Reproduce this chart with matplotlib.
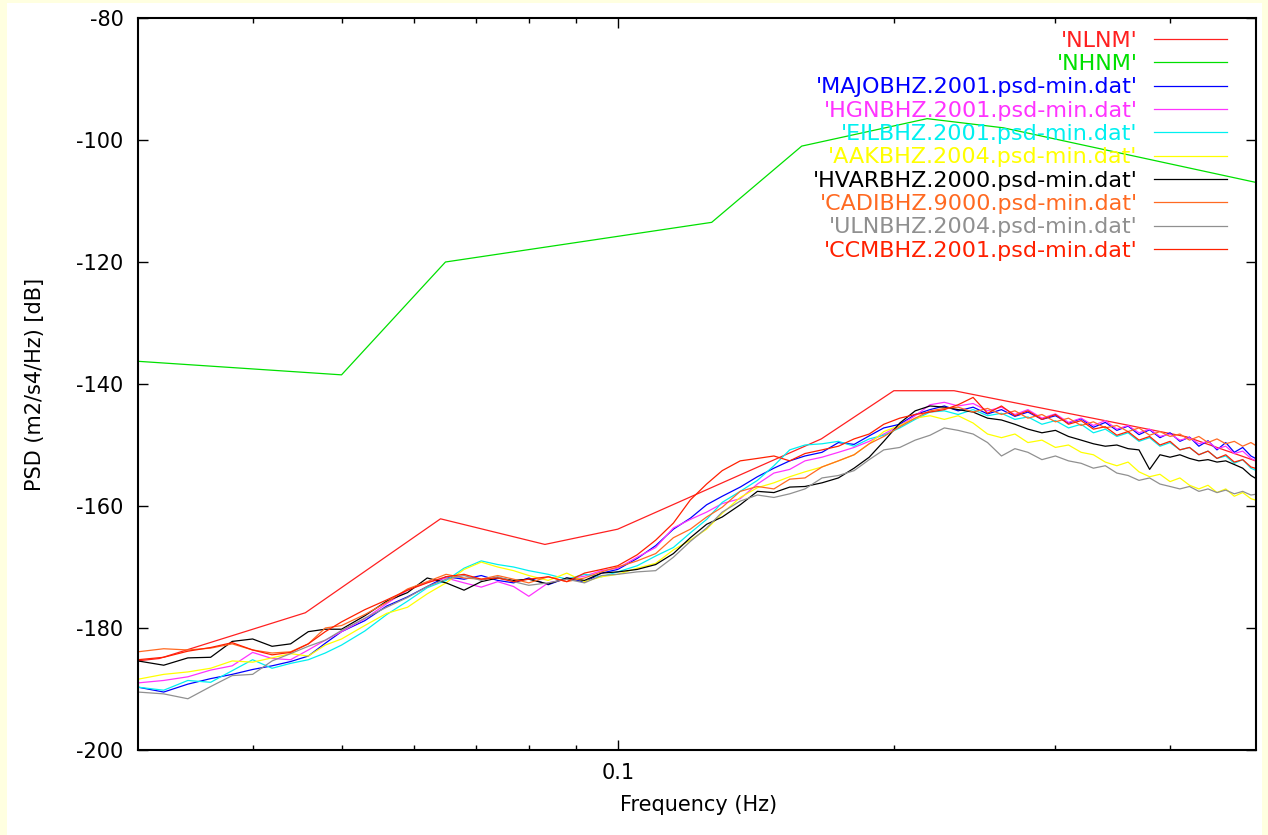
import matplotlib
matplotlib.use("Agg")
import matplotlib.pyplot as plt
from matplotlib.patches import Rectangle
from matplotlib.ticker import FixedLocator, NullFormatter, FixedFormatter

plt.rcParams['font.family'] = ['DejaVu Sans']
plt.rcParams['axes.unicode_minus'] = False

# ---------------- data ----------------
nlnm_freq = [0.02222, 0.03165, 0.04566, 0.0641, 0.0833, 0.1, 0.1667, 0.2, 0.2326, 0.4167, 0.5]
nlnm_db = [-187.5, -185.0, -177.5, -162.1, -166.3, -163.8, -149.0, -141.1, -141.1, -148.65, -152.8]

nhnm_freq = [0.00282, 0.05, 0.0649, 0.1266, 0.1587, 0.2174, 0.2632, 1.25]
nhnm_db = [-126.0, -138.5, -120.0, -113.5, -101.0, -96.5, -98.0, -120.0]

freq = [0.030, 0.032, 0.034, 0.036, 0.038, 0.040, 0.042, 0.044, 0.046, 0.048,
        0.050, 0.053, 0.056, 0.059, 0.062, 0.065, 0.068, 0.071, 0.074, 0.077,
        0.080, 0.084, 0.088, 0.092, 0.096, 0.100, 0.105, 0.110, 0.115, 0.120,
        0.125, 0.130, 0.136, 0.142, 0.148, 0.154, 0.160, 0.167, 0.174, 0.181,
        0.188, 0.195, 0.203, 0.211, 0.219, 0.227, 0.235, 0.244, 0.253, 0.262,
        0.271, 0.280, 0.290, 0.300, 0.310, 0.320, 0.330, 0.340, 0.350, 0.360,
        0.370, 0.380, 0.390, 0.400, 0.410, 0.420, 0.430, 0.440, 0.450, 0.460,
        0.470, 0.480, 0.490, 0.500]

majo = [-189.7, -190.5, -189.2, -188.3, -187.6, -186.8, -186.2, -185.5, -184.6, -182.5,
        -180.6, -178.8, -176.4, -174.9, -173.2, -171.6, -172.0, -171.4, -172.2, -172.6,
        -171.8, -172.9, -171.8, -172.5, -171.0, -170.4, -168.6, -166.5, -163.8, -162.0,
        -159.8, -158.4, -156.9, -155.2, -153.8, -152.6, -151.8, -151.2, -149.6, -149.9,
        -148.5, -147.2, -146.6, -145.0, -144.2, -143.6, -144.4, -143.8, -144.9, -144.2,
        -145.3, -144.6, -145.8, -145.2, -146.4, -145.7, -147.1, -146.3, -147.6, -146.9,
        -148.3, -147.5, -148.8, -148.0, -149.4, -148.7, -150.2, -149.3, -150.8, -149.6,
        -151.2, -150.4, -151.8, -152.5]

hgn = [-189.0, -188.6, -188.0, -186.9, -186.2, -184.0, -185.0, -185.2, -183.6, -182.0,
       -180.6, -178.5, -176.0, -173.8, -172.5, -171.8, -172.6, -173.3, -172.4, -173.2,
       -174.8, -172.6, -172.0, -171.5, -170.6, -170.2, -168.4, -166.8, -163.6, -162.2,
       -161.0, -159.6, -158.8, -156.4, -154.6, -154.0, -152.6, -152.0, -151.2, -150.4,
       -149.4, -148.2, -146.8, -145.2, -143.4, -143.0, -143.6, -143.2, -144.4, -143.8,
       -145.0, -144.2, -145.6, -144.9, -146.3, -145.6, -146.8, -146.0, -147.4, -146.8,
       -148.0, -147.4, -148.6, -148.2, -149.2, -148.8, -149.8, -149.4, -150.6, -150.2,
       -151.4, -151.0, -152.2, -152.8]

eil = [-189.7, -190.2, -188.6, -188.9, -187.0, -185.2, -186.6, -185.8, -185.2, -184.1,
       -182.8, -180.5, -177.8, -175.6, -173.4, -172.2, -170.2, -169.0, -169.6, -170.0,
       -170.6, -171.2, -172.0, -171.2, -171.6, -170.8, -169.8, -168.2, -166.8, -164.4,
       -162.2, -159.4, -157.6, -155.8, -153.4, -150.8, -150.0, -149.8, -149.4, -150.2,
       -149.0, -148.4, -147.2, -145.8, -144.6, -144.4, -145.0, -144.2, -145.2, -144.8,
       -145.8, -145.4, -146.6, -146.0, -147.2, -146.6, -148.0, -147.4, -148.6, -148.0,
       -149.4, -148.8, -150.2, -149.6, -150.8, -150.4, -151.6, -151.0, -152.2, -151.8,
       -153.0, -152.4, -153.8, -154.4]

aak = [-188.4, -187.6, -187.2, -186.6, -185.4, -185.6, -184.9, -184.2, -184.6, -182.8,
       -181.8, -179.6, -177.6, -176.6, -174.4, -172.6, -170.4, -169.2, -170.0, -170.6,
       -171.4, -172.2, -171.0, -172.4, -171.6, -171.2, -170.2, -169.4, -167.2, -165.6,
       -163.8, -161.2, -158.6, -157.0, -156.2, -155.2, -154.4, -153.6, -152.6, -151.6,
       -149.8, -147.8, -146.8, -145.6, -145.2, -145.8, -145.2, -146.4, -148.2, -148.8,
       -148.2, -149.6, -149.2, -150.4, -150.0, -151.2, -151.6, -152.8, -153.4, -152.8,
       -154.4, -155.2, -154.8, -156.0, -155.4, -156.6, -157.2, -156.6, -157.8, -157.2,
       -158.4, -157.8, -158.8, -159.2]

hvar = [-185.4, -186.1, -184.9, -184.8, -182.2, -181.8, -183.0, -182.6, -180.6, -180.2,
        -180.2, -178.0, -175.6, -174.2, -171.8, -172.6, -173.8, -172.4, -171.8, -172.2,
        -172.0, -172.8, -171.8, -172.2, -171.0, -170.8, -170.4, -169.6, -167.8, -165.2,
        -163.0, -161.8, -159.8, -157.6, -157.8, -156.9, -156.8, -156.2, -155.4, -153.8,
        -152.0, -149.4, -146.4, -144.4, -143.6, -143.8, -144.2, -144.6, -145.6, -145.9,
        -146.6, -147.4, -148.0, -147.6, -148.6, -149.2, -149.8, -150.2, -150.0, -150.6,
        -150.8, -154.0, -151.6, -152.0, -151.6, -152.2, -152.6, -152.4, -152.8, -152.6,
        -153.2, -153.8, -155.0, -155.8]

cadi = [-183.9, -183.4, -183.6, -183.3, -182.6, -183.6, -184.1, -183.9, -182.6, -180.0,
        -179.6, -177.8, -175.8, -173.6, -172.4, -171.2, -171.8, -172.0, -171.4, -172.0,
        -172.6, -171.6, -172.4, -171.8, -170.8, -170.0, -169.0, -167.8, -165.2, -163.8,
        -161.8, -160.2, -157.6, -156.8, -157.2, -155.6, -155.4, -153.6, -152.6, -151.6,
        -149.8, -148.6, -147.0, -145.6, -144.4, -144.0, -143.8, -144.6, -144.0, -145.0,
        -144.4, -145.6, -145.0, -146.2, -145.6, -146.8, -146.2, -147.2, -146.8, -147.8,
        -147.2, -148.4, -147.8, -148.6, -148.2, -149.2, -148.6, -149.6, -149.0, -149.8,
        -149.4, -150.2, -149.6, -150.4]

uln = [-190.5, -190.8, -191.6, -189.6, -187.8, -187.6, -185.4, -184.2, -183.0, -182.0,
       -180.4, -178.4, -176.6, -175.0, -173.2, -172.0, -171.4, -172.2, -171.6, -172.4,
       -173.0, -172.6, -172.0, -172.6, -171.4, -171.2, -170.8, -170.6, -168.4, -165.8,
       -163.6, -161.0, -159.2, -158.2, -158.6, -158.0, -157.2, -155.4, -155.0, -154.2,
       -152.4, -150.8, -150.4, -149.2, -148.4, -147.2, -147.6, -148.2, -149.6, -151.8,
       -150.6, -151.2, -152.4, -151.8, -152.6, -153.0, -153.8, -153.4, -154.6, -155.0,
       -155.8, -155.4, -156.4, -156.8, -157.2, -156.8, -157.6, -157.2, -157.8, -157.4,
       -158.0, -157.6, -158.2, -158.0]

ccm = [-185.2, -184.8, -183.8, -183.2, -182.4, -183.6, -184.4, -184.0, -182.6, -180.6,
       -179.0, -177.0, -175.4, -173.8, -172.6, -171.6, -171.2, -172.0, -171.8, -172.4,
       -172.0, -171.6, -172.4, -171.0, -170.4, -169.8, -168.0, -165.6, -162.8, -159.0,
       -156.4, -154.2, -152.6, -152.2, -151.8, -152.6, -151.4, -150.8, -150.2, -149.0,
       -148.2, -146.6, -145.6, -145.0, -144.6, -144.2, -143.4, -142.2, -144.8, -143.6,
       -145.2, -144.4, -145.8, -145.0, -146.6, -146.0, -147.4, -147.0, -148.4, -147.8,
       -149.2, -148.6, -150.0, -149.4, -150.8, -150.4, -151.6, -151.0, -152.2, -151.6,
       -152.8, -152.4, -153.6, -154.0]

stations = [
    ("'MAJOBHZ.2001.psd-min.dat'", majo, "#0000ff"),
    ("'HGNBHZ.2001.psd-min.dat'", hgn, "#ff33ff"),
    ("'EILBHZ.2001.psd-min.dat'", eil, "#00f0f0"),
    ("'AAKBHZ.2004.psd-min.dat'", aak, "#ffff00"),
    ("'HVARBHZ.2000.psd-min.dat'", hvar, "#000000"),
    ("'CADIBHZ.9000.psd-min.dat'", cadi, "#ff6a22"),
    ("'ULNBHZ.2004.psd-min.dat'", uln, "#909090"),
    ("'CCMBHZ.2001.psd-min.dat'", ccm, "#ff2000"),
]

yticks = [-200, -180, -160, -140, -120, -100, -80]
xminor = [0.04, 0.05, 0.06, 0.07, 0.08, 0.09, 0.2, 0.3, 0.4]

# ---------------- figure ----------------
W, H = 1268, 835
fig = plt.figure(figsize=(W / 100, H / 100), dpi=100)
fig.patch.set_facecolor("#FFFFE0")
fig.add_artist(Rectangle((7 / W, 0), (1262 - 7) / W, (832) / H,
                         transform=fig.transFigure, facecolor="white",
                         edgecolor="none", zorder=-10))

ax = fig.add_axes([138 / W, 1 - 750 / H, (1256 - 138) / W, (750 - 18) / H])
ax.set_facecolor("white")

ax.plot(nlnm_freq, nlnm_db, color="#ff2020", lw=0.9, label="'NLNM'")
ax.plot(nhnm_freq, nhnm_db, color="#00e000", lw=0.9, label="'NHNM'")
for lab, vals, col in stations:
    ax.plot(freq, vals, color=col, lw=0.9, label=lab)

ax.set_xscale("log")
ax.set_xlim(0.03, 0.4963)
ax.set_ylim(-200, -80)

ax.xaxis.set_major_locator(FixedLocator([0.1]))
ax.xaxis.set_major_formatter(FixedFormatter(["0.1"]))
ax.xaxis.set_minor_locator(FixedLocator(xminor))
ax.xaxis.set_minor_formatter(NullFormatter())
ax.yaxis.set_major_locator(FixedLocator(yticks))
ax.yaxis.set_minor_locator(FixedLocator([]))

ax.tick_params(axis="both", which="major", direction="in", length=7.5, width=1.0,
               labelsize=15, top=True, right=True)
ax.tick_params(axis="both", which="minor", direction="in", length=3.8, width=1.0,
               top=True, right=True)
ax.tick_params(axis="y", which="major", pad=10.5)
ax.tick_params(axis="x", which="major", pad=9.5)

for sp in ax.spines.values():
    sp.set_linewidth(1.5)

ax.set_xlabel("Frequency (Hz)", fontsize=15)
ax.set_ylabel("PSD (m2/s4/Hz) [dB]", fontsize=15)
ax.xaxis.set_label_coords(0.501, -0.062)
ax.yaxis.set_label_coords(-0.083, 0.5)

leg = ax.legend(loc="upper right", bbox_to_anchor=(0.974, 0.9825), frameon=False,
                markerfirst=False, fontsize=16, labelspacing=0.15,
                handlelength=3.3, handletextpad=0.72, borderpad=0, borderaxespad=0,
                labelcolor="linecolor")

fig.savefig("out.png", dpi=100, facecolor=fig.get_facecolor())
